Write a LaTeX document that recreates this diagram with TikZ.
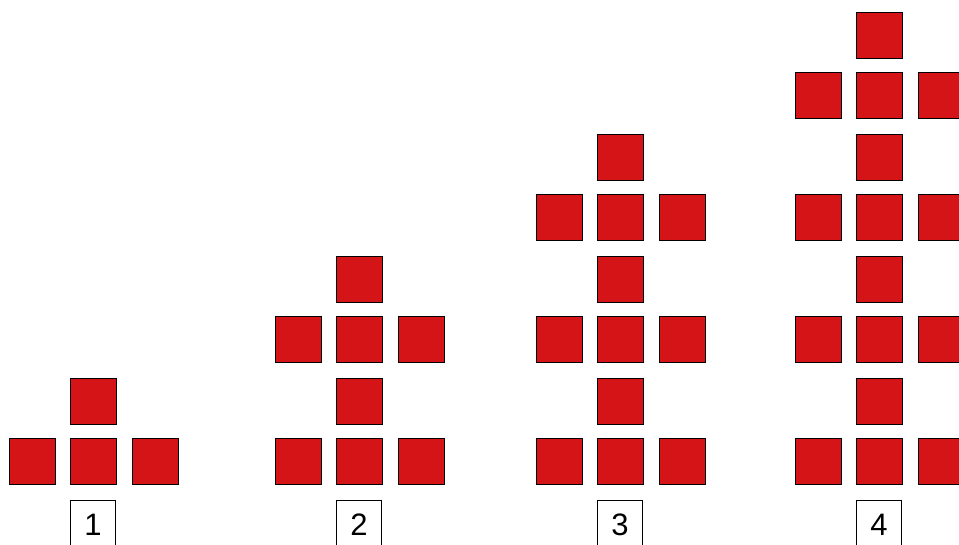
\documentclass[tikz,border=0pt]{standalone}
\usepackage{fontspec}
\setmainfont{Liberation Sans}
\definecolor{tilered}{HTML}{D51418}
\tikzset{
  tile/.style={draw=black, fill=tilered, line width=0.9pt, minimum size=46pt, inner sep=0pt, outer sep=0pt},
  stagebox/.style={draw=black, line width=0.9pt, fill=white, minimum width=45pt, minimum height=48pt,
    anchor=north, inner sep=0pt, font=\fontsize{31}{31}\selectfont}
}
\begin{document}
\begin{tikzpicture}[x=1pt, y=-1pt]
  \clip (0,0) rectangle (959,544);
  % one stage per column: n rows of three, each with a single tile on top
  \foreach \n/\cx in {1/93, 2/359, 3/620, 4/879} {
    \begin{scope}[shift={(\cx,0)}]
      \foreach \k in {1,...,\n} {
        \pgfmathsetmacro\yrow{461-(\k-1)*122}
        \pgfmathsetmacro\ytop{401-(\k-1)*122}
        \node[tile] (s\n-\k-l) at (-61,\yrow) {};
        \node[tile] (s\n-\k-c) at (0,\yrow) {};
        \node[tile] (s\n-\k-r) at (62,\yrow) {};
        \node[tile] (s\n-\k-t) at (0,\ytop) {};
      }
      % stage number
      \node[stagebox] (stage\n) at (0,500) {\n};
    \end{scope}
  }
\end{tikzpicture}
\end{document}
